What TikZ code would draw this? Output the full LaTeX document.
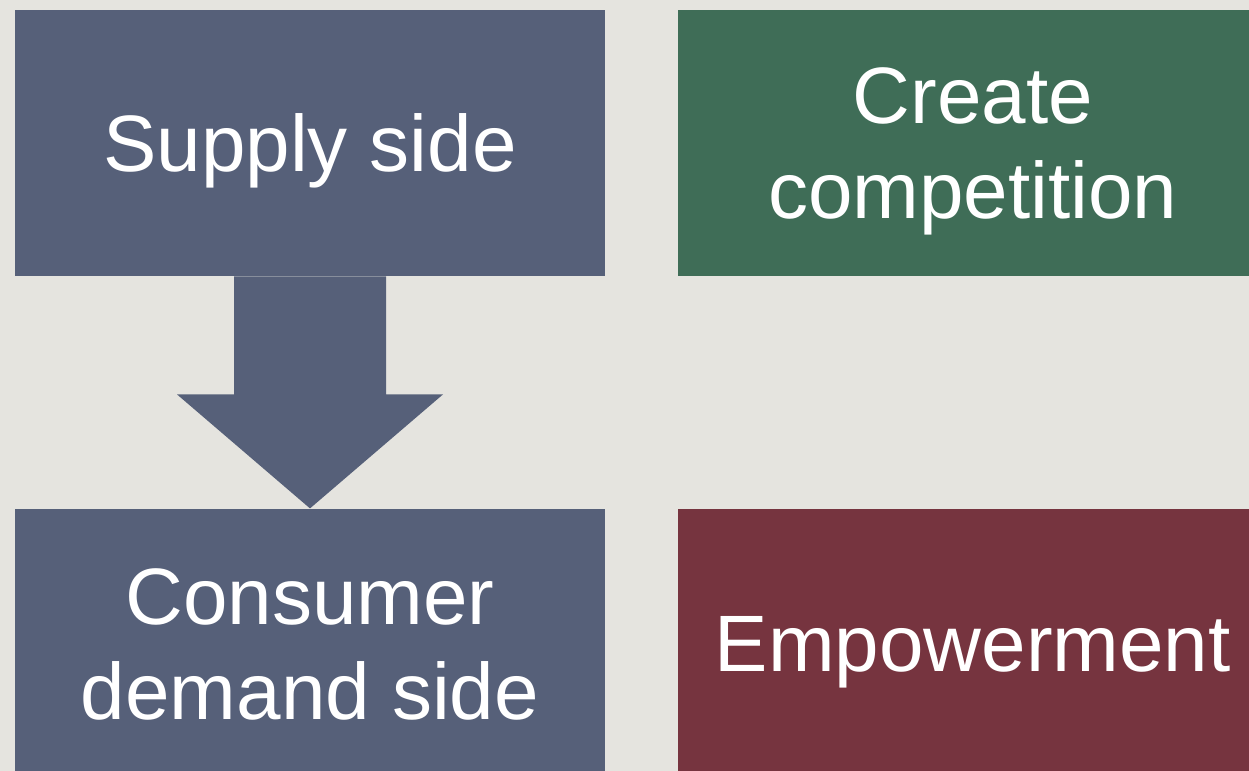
\documentclass[tikz,border=0pt]{standalone}
\usepackage{fontspec}
\setmainfont{Liberation Sans}
\usetikzlibrary{positioning}
\definecolor{paper}{HTML}{E5E4DF}
\definecolor{slate}{HTML}{566079}
\definecolor{pine}{HTML}{3F6D57}
\definecolor{wine}{HTML}{76343F}
\begin{document}
\begin{tikzpicture}[x=.5pt,y=-.5pt,line join=round,
  box/.style={fill=#1,text=white,minimum width=295pt,minimum height=133pt,inner sep=0pt,
    align=center,font=\fontsize{40}{47.5}\selectfont,text height=29pt,text depth=1pt},
  lowbox/.style={box=#1,minimum height=135pt},
  twolines/.style={text height=76.5pt}]
\useasboundingbox (0,0) rectangle (1249,771);
\fill[paper] (0,0) rectangle (1249,771);
\clip (0,0) rectangle (1249,771);
\node[box=slate] (supply) at (310,143) {Supply side};
\node[box=pine,twolines,right=36pt of supply] (compete) {Create\\competition};
\node[lowbox=slate,twolines,below=116pt of supply.south,anchor=north] (consumer) {Consumer\\demand side};
\node[lowbox=wine,right=36pt of consumer] (empower) {Empowerment};
% block arrow
\fill[slate] ([xshift=-38pt]supply.south) -- ++(0,118) -- ++(-57,0) -- (consumer.north)
  -- ([xshift=66.5pt,yshift=-59pt]supply.south) -- ++(-57,0) -- ([xshift=38pt]supply.south) -- cycle;
\end{tikzpicture}
\end{document}
